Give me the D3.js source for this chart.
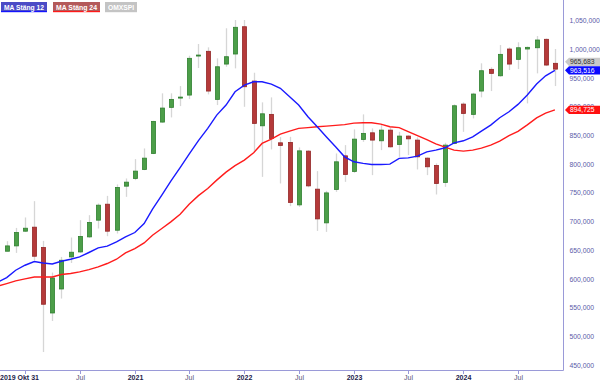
<!DOCTYPE html>
<html>
<head>
<meta charset="utf-8">
<script src="https://cdn.jsdelivr.net/npm/d3@7/dist/d3.min.js"></script>
<style>
  html, body { margin: 0; padding: 0; background: #fff; }
  svg { display: block; font-family: "Liberation Sans", Arial, sans-serif; }
</style>
</head>
<body>
<div id="chart"></div>
<script>
// monthly candles OMXSPI, values in thousands, first candle = Nov 2019
var candleOpen = [648.6,657.9,683.5,690.5,655.1,541.1,582.9,638.7,647.4,673.6,702.7,730.5,685.2,761.9,775.3,791.0,818.9,873.5,899.1,915.3,
  920.5,988.5,996.7,913.0,974.5,992.0,1039.5,944.9,867.0,886.9,837.4,838.1,729.3,822.9,756.7,698.0,756.2,814.7,787.5,843.3,
  854.8,840.9,859.5,834.6,849.1,842.1,810.7,798.0,768.4,836.3,904.8,886.9,927.5,965.3,954.1,1000.7,982.7,1000.7,1002.9,1017.6,975.8];
var candleHigh = [666.1,689.2,707.4,735.8,666.6,611.5,638.7,672.5,702.7,711.4,731.8,745.0,764.9,775.3,809.0,827.6,875.7,923.5,923.5,936.2,
  989.0,1009.4,1003.6,984.5,1036.8,1051.2,1051.2,959.4,907.8,916.5,847.3,847.8,829.4,824.6,788.1,753.7,818.9,833.4,860.7,886.9,
  862.5,868.2,864.2,856.5,850.5,846.8,812.0,801.5,837.4,904.3,907.8,924.5,975.8,968.8,1007.6,1003.6,1012.4,1005.0,1023.3,1019.0,1000.7];
var candleLow = [648.6,645.7,682.3,633.0,473.1,527.2,566.2,628.2,645.7,671.8,688.2,674.8,679.5,743.3,772.4,789.8,817.7,872.2,881.6,901.3,
  913.5,967.6,921.7,903.1,969.8,967.0,900.1,821.7,778.1,825.9,766.6,727.1,725.8,760.0,684.0,682.3,752.0,769.4,785.0,839.1,
  781.1,824.7,829.0,813.0,816.0,791.0,781.1,747.4,760.7,835.0,856.5,879.9,916.5,927.5,952.4,964.1,965.8,906.0,958.3,971.0,936.2];
var candleClose = [657.9,681.2,688.7,639.9,556.3,602.1,632.9,646.9,674.3,698.7,728.8,683.5,759.7,768.9,788.1,810.7,874.7,897.9,913.0,917.0,
  984.5,990.2,927.5,969.8,987.3,1038.5,935.0,871.2,887.9,845.0,832.8,733.5,823.4,762.4,704.9,750.2,804.3,782.3,843.8,853.8,
  842.1,859.5,830.4,849.1,844.3,813.0,795.6,766.6,833.4,901.9,888.6,922.3,962.9,958.3,991.4,974.5,1002.9,1003.6,1016.4,972.8,965.683];

// moving averages, first value = Oct 2019
var ma12 = [594.6,602.8,615.5,624.2,630.7,628.2,626.5,631.2,634.7,638.7,646.4,654.4,657.4,664.8,673.6,681.2,696.9,721.8,746.2,770.6,794.2,
  817.7,841.2,862.5,885.7,903.1,926.3,937.9,943.7,943.7,939.7,932.2,917.5,903.1,882.7,865.3,847.8,830.4,813.0,804.3,801.5,
  799.7,799.7,800.3,810.2,811.2,814.2,821.7,824.7,828.7,837.4,840.9,847.8,857.8,868.2,881.0,891.4,904.3,920.5,939.7,954.1,963.516];
var ma24 = [587.6,592.3,596.9,600.4,603.8,603.8,603.8,608.0,609.8,612.6,616.7,621.3,627.2,634.7,645.7,653.3,663.1,676.5,688.2,699.7,713.1,
  730.5,745.4,757.9,772.4,786.3,797.6,807.2,820.0,836.3,843.8,852.5,857.8,862.5,863.9,865.3,866.5,867.7,869.1,871.7,872.2,
  872.2,870.0,865.3,863.9,856.9,849.9,843.0,835.5,829.9,824.7,822.9,824.7,828.1,833.4,840.3,849.9,857.2,868.7,880.8,889.1,894.725];

var yTicks = [450,500,550,600,650,700,750,800,850,900,950,1000,1050];
var xTickDates = ["2020-01","2020-07","2021-01","2021-07","2022-01","2022-07","2023-01","2023-07","2024-01","2024-07"];
var xTickLabels = ["2019 Okt 31","Jul","2021","Jul","2022","Jul","2023","Jul","2024","Jul"];
var legendNames = ["MA Stäng 12","MA Stäng 24","OMXSPI"];

var W = 600, H = 381;
var plotRight = 563, plotBottom = 370;
var axisColor = "#9a9ad8";
var parseMonth = d3.timeParse("%Y-%m");

var candleMonths = d3.timeMonth.range(new Date(2019,10,1), new Date(2024,11,1));
var maMonths = d3.timeMonth.range(new Date(2019,9,1), new Date(2024,11,1));

var candles = candleMonths.map(function(d,i){
  return {date:d, o:candleOpen[i], h:candleHigh[i], l:candleLow[i], c:candleClose[i]};
});

var x = d3.scaleTime()
  .domain([new Date(2020,0,1), new Date(2024,6,1)])
  .range([25, 518]);
var y = d3.scaleLinear()
  .domain([450, 1050])
  .range([365.3, 20.7]);

var svg = d3.select("#chart").append("svg")
  .attr("width", W).attr("height", H);

svg.append("defs").append("clipPath").attr("id","plotclip")
  .append("rect").attr("x",0).attr("y",0).attr("width",plotRight).attr("height",plotBottom);

var plot = svg.append("g").attr("clip-path","url(#plotclip)");

// wicks
plot.selectAll(".wick").data(candles).enter().append("line")
  .attr("class","wick")
  .attr("x1", function(d){return Math.round(x(d.date))+0.5;})
  .attr("x2", function(d){return Math.round(x(d.date))+0.5;})
  .attr("y1", function(d){return y(d.h);})
  .attr("y2", function(d){return y(d.l);})
  .attr("stroke","#d6d6d6")
  .attr("stroke-width",1.3);

// bodies
plot.selectAll(".body").data(candles).enter().append("rect")
  .attr("class","body")
  .attr("x", function(d){return Math.round(x(d.date))-1.5;})
  .attr("y", function(d){return y(Math.max(d.o,d.c));})
  .attr("width", 4)
  .attr("height", function(d){return Math.max(1, Math.abs(y(d.o)-y(d.c)));})
  .attr("fill", function(d){return d.c>=d.o ? "#4c9e48" : "#b53a3a";})
  .attr("stroke", function(d){return d.c>=d.o ? "#2f7f2f" : "#932626";})
  .attr("stroke-width",0.8);

// moving averages
var line = d3.line()
  .x(function(d){return x(d.date);})
  .y(function(d){return y(d.v);});

plot.append("path")
  .datum(maMonths.map(function(d,i){return {date:d, v:ma24[i]};}))
  .attr("d", line)
  .attr("fill","none").attr("stroke","#ff1c1c").attr("stroke-width",1.4);

plot.append("path")
  .datum(maMonths.map(function(d,i){return {date:d, v:ma12[i]};}))
  .attr("d", line)
  .attr("fill","none").attr("stroke","#1a1aff").attr("stroke-width",1.4);

// axes frame
svg.append("line").attr("x1",0).attr("x2",plotRight+0.5)
  .attr("y1",plotBottom+0.5).attr("y2",plotBottom+0.5)
  .attr("stroke",axisColor).attr("stroke-width",1);
svg.append("line").attr("x1",plotRight+0.5).attr("x2",plotRight+0.5)
  .attr("y1",0).attr("y2",plotBottom+0.5)
  .attr("stroke",axisColor).attr("stroke-width",1);

// x ticks
var xt = svg.append("g");
xTickDates.forEach(function(s,i){
  var px = Math.round(x(parseMonth(s)))+0.5;
  xt.append("line").attr("x1",px).attr("x2",px)
    .attr("y1",plotBottom).attr("y2",plotBottom+4)
    .attr("stroke",axisColor);
  var lbl = xTickLabels[i];
  var bold = lbl !== "Jul";
  xt.append("text")
    .attr("x", i===0 ? 0 : px)
    .attr("y", 380)
    .attr("text-anchor", i===0 ? "start" : "middle")
    .attr("font-size", 7)
    .attr("font-weight", bold ? "bold" : "normal")
    .attr("fill", bold ? "#22224a" : "#55557a")
    .text(lbl);
});

// y tick labels
var fmt = d3.format(",");
svg.append("g").selectAll("text").data(yTicks).enter().append("text")
  .attr("x", 569.5)
  .attr("y", function(d){return y(d);})
  .attr("dy","0.35em")
  .attr("font-size",6.8)
  .attr("fill","#5a5aa8")
  .text(function(d){return fmt(d*1000);});

// value tags on the right
var lastMa12 = ma12[ma12.length-1], lastMa24 = ma24[ma24.length-1], lastClose = candleClose[candleClose.length-1];
var yMa12 = y(lastMa12), yMa24 = y(lastMa24), yClose = y(lastClose);
if (Math.abs(yClose - yMa12) < 8.5) yClose = yMa12 - 8.5;
var tags = [
  {y:yClose, v:lastClose, fill:"#c9c9c9", text:"#333"},
  {y:yMa24, v:lastMa24, fill:"#ff1010", text:"#fff"},
  {y:yMa12, v:lastMa12, fill:"#0a0aff", text:"#fff"}
];
var fmt3 = d3.format(",.0f");
tags.forEach(function(t){
  var g = svg.append("g");
  g.append("path")
    .attr("d", "M565," + t.y + "L569," + (t.y-4.2) + "L600," + (t.y-4.2) + "L600," + (t.y+4.2) + "L569," + (t.y+4.2) + "Z")
    .attr("fill", t.fill);
  g.append("text").attr("x",570).attr("y",t.y).attr("dy","0.35em")
    .attr("font-size",6.8).attr("fill",t.text)
    .text(fmt3(t.v*1000));
});

// legend
var legendFill = ["#4b4bc6","#b45a5a","#c4c4c4"];
var legendLine = ["#1414ff","#ff1a1a","#c4c4c4"];
var legendX = [1,53,105], legendW = [46,47,32];
legendNames.forEach(function(n,i){
  svg.append("rect").attr("x",legendX[i]).attr("y",2).attr("width",legendW[i]).attr("height",10)
    .attr("fill",legendFill[i]);
  svg.append("rect").attr("x",legendX[i]).attr("y",11).attr("width",legendW[i]).attr("height",1.2)
    .attr("fill",legendLine[i]);
  svg.append("text").attr("x",legendX[i]+3).attr("y",9.6)
    .attr("font-size",7).attr("font-weight","bold").attr("fill","#fff")
    .attr("textLength", legendW[i]-6).attr("lengthAdjust","spacingAndGlyphs")
    .text(n);
});
</script>
</body>
</html>
